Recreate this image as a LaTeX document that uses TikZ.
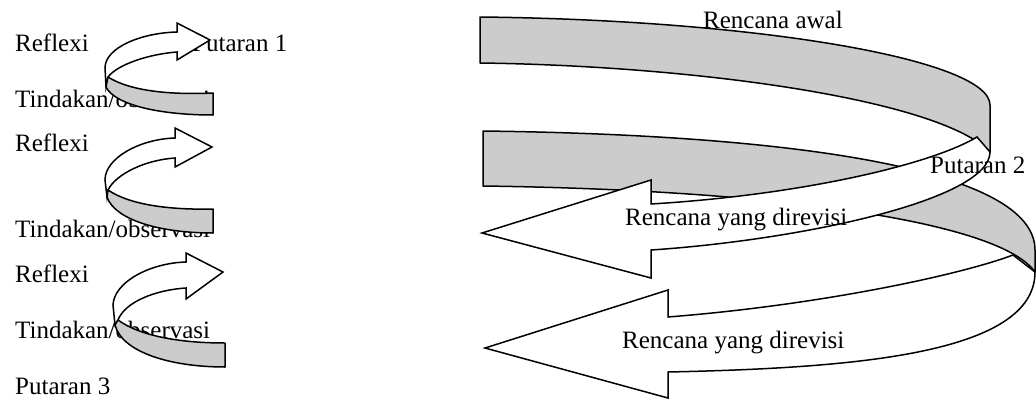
\documentclass[tikz,border=0pt]{standalone}
\usepackage{fontspec}
\setmainfont{Liberation Serif}
\definecolor{bandgray}{RGB}{204,204,204}
\begin{document}
\begin{tikzpicture}[x=1pt,y=-1pt,
  backface/.style={draw=black, line width=1.5pt, line join=round, fill=bandgray},
  frontface/.style={draw=black, line width=1.5pt, line join=miter, fill=white},
  lbl/.style={anchor=base west, inner sep=0pt, font=\fontsize{25}{29}\selectfont}]
\useasboundingbox (0,0) rectangle (1036,399);

% ---------- left labels (behind the small arrows)
\node[lbl] (refl1) at (15,51) {Reflexi};
\node[lbl] (put1) at (192,51) {Putaran 1};
\node[lbl] (tind1) at (15,107) {Tindakan/observasi};
\node[lbl] (refl2) at (15,151) {Reflexi};
\node[lbl] (tind2) at (15,237) {Tindakan/observasi};
\node[lbl] (refl3) at (15,282) {Reflexi};
\node[lbl] (tind3) at (15,338) {Tindakan/observasi};
\node[lbl] (put3) at (15,394) {Putaran 3};

% ---------- small arrow 1
\path[frontface] (106,87) -- (105,68) .. controls (105,48) and (140,33) .. (177,32)
  -- (177,23) -- (210,40) -- (177,60) -- (177,52)
  .. controls (150,54) and (118,64) .. (108,77) -- cycle;
\path[backface] (108,77) .. controls (130,91) and (170,95) .. (213,93)
  -- (213,115) .. controls (160,115) and (115,105) .. (106,87) -- cycle;

% ---------- small arrow 2
\path[frontface] (107,197) -- (105,180) .. controls (105,158) and (140,139) .. (175,138)
  -- (175,128) -- (212,147) -- (175,167) -- (175,158)
  .. controls (145,160) and (116,174) .. (108,190) -- cycle;
\path[backface] (108,190) .. controls (130,205) and (170,210) .. (213,209)
  -- (213,233) .. controls (160,233) and (115,220) .. (107,197) -- cycle;

% ---------- small arrow 3
\path[frontface] (115,325) -- (113,305) .. controls (114,282) and (150,263) .. (186,262)
  -- (186,253) -- (223,272) -- (186,299) -- (186,288)
  .. controls (155,290) and (125,302) .. (118,320) -- cycle;
\path[backface] (118,320) .. controls (140,336) and (180,343) .. (225,343)
  -- (225,367) .. controls (170,367) and (122,352) .. (115,325) -- cycle;

% ---------- big arrow 2 (lower)
\path[backface] (483,131) .. controls (800,135) and (1035,170) .. (1035,250)
  -- (1035,272) .. controls (1000,222) and (780,190) .. (483,186) -- cycle;
\path[frontface] (1035,272) .. controls (1035,355) and (850,368) .. (668,372)
  -- (668,398) -- (485,348) -- (668,290) -- (668,317)
  .. controls (820,305) and (960,275) .. (1013,255) -- cycle;

% ---------- big arrow 1 (upper)
\path[backface] (480,17) .. controls (760,20) and (990,60) .. (990,105)
  -- (990,152) .. controls (940,100) and (700,66) .. (480,63) -- cycle;
\path[frontface] (990,152) .. controls (990,200) and (800,240) .. (651,250)
  -- (651,278) -- (482,233) -- (651,180) -- (651,204)
  .. controls (800,195) and (930,165) .. (977,137) -- cycle;

% ---------- right labels
\node[lbl] (awal) at (703,28) {Rencana awal};
\node[lbl] (put2) at (930,173) {Putaran 2};
\node[lbl] (rev1) at (625,225) {Rencana yang direvisi};
\node[lbl] (rev2) at (622,348) {Rencana yang direvisi};
\end{tikzpicture}
\end{document}
